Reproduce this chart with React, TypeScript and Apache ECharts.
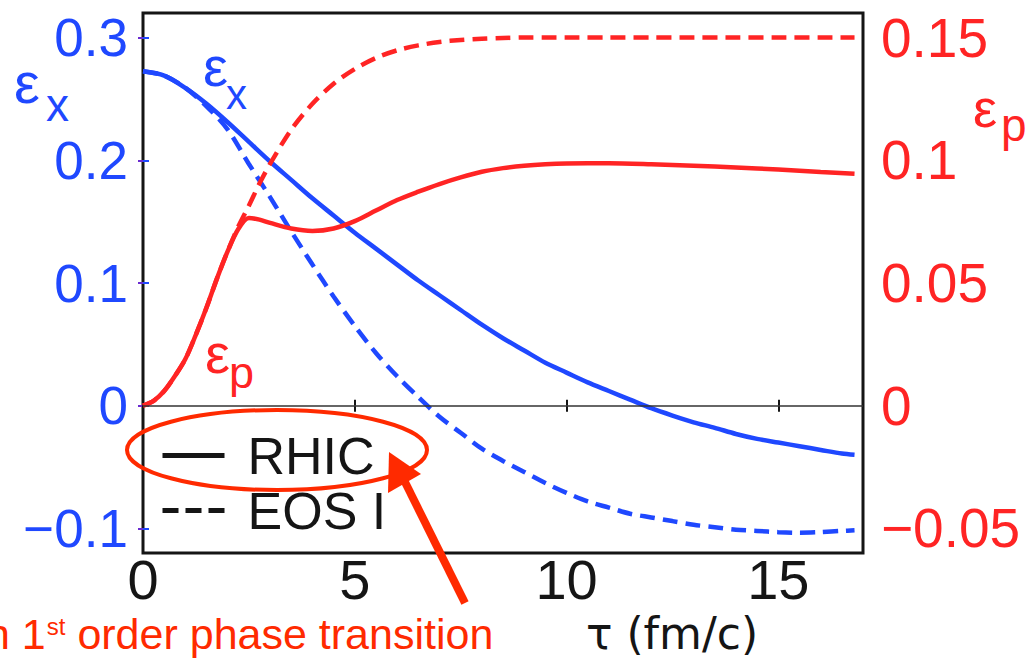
import React, { useEffect, useRef } from 'react';
import * as echarts from 'echarts';

// ---- data ----
const tauBlue = [0, 0.5, 1, 1.5, 2, 2.5, 3, 3.5, 4, 4.5, 5, 5.5, 6, 6.5, 7, 7.5, 8, 8.5, 9, 9.5, 10, 10.5, 11, 11.5, 12, 12.5, 13, 13.5, 14, 14.5, 15, 15.5, 16, 16.5, 16.8];
const epsXRhic = [0.2725, 0.269, 0.259, 0.246, 0.231, 0.215, 0.199, 0.184, 0.169, 0.155, 0.141, 0.128, 0.115, 0.102, 0.09, 0.078, 0.066, 0.055, 0.045, 0.035, 0.027, 0.019, 0.012, 0.005, -0.002, -0.008, -0.0135, -0.018, -0.023, -0.027, -0.03, -0.033, -0.036, -0.039, -0.04];
const epsXEos = [0.2725, 0.269, 0.259, 0.244, 0.225, 0.197, 0.17, 0.142, 0.115, 0.089, 0.065, 0.043, 0.024, 0.007, -0.009, -0.022, -0.035, -0.045, -0.054, -0.063, -0.071, -0.078, -0.083, -0.088, -0.091, -0.094, -0.097, -0.099, -0.101, -0.102, -0.103, -0.1035, -0.103, -0.102, -0.1015];

const tauRed = [0, 0.25, 0.5, 0.75, 1, 1.25, 1.5, 1.75, 2, 2.25, 2.5, 2.75, 3, 3.5, 4, 4.5, 5, 5.5, 6, 6.5, 7, 7.5, 8, 8.5, 9, 9.5, 10, 11, 12, 13, 14, 15, 16, 16.8];
const epsPRhic = [0, 0.002, 0.006, 0.012, 0.019, 0.029, 0.04, 0.052, 0.063, 0.072, 0.0765, 0.0758, 0.0745, 0.0722, 0.0712, 0.0722, 0.0752, 0.0795, 0.0838, 0.0872, 0.0903, 0.093, 0.0953, 0.0968, 0.0978, 0.0984, 0.0987, 0.0988, 0.0984, 0.0978, 0.0971, 0.0962, 0.0952, 0.0945];
const epsPEos = [0, 0.002, 0.006, 0.012, 0.019, 0.029, 0.04, 0.052, 0.063, 0.073, 0.0815, 0.0905, 0.0985, 0.1125, 0.123, 0.1312, 0.1372, 0.1417, 0.1448, 0.1468, 0.1482, 0.149, 0.1495, 0.1498, 0.15, 0.15, 0.15, 0.15, 0.15, 0.15, 0.15, 0.15, 0.15, 0.15];

const xTicks = [0, 5, 10, 15];
const leftTicks = [-0.1, 0, 0.1, 0.2, 0.3];
const rightTicks = [-0.05, 0, 0.05, 0.1, 0.15];
const legendNames = ['RHIC', 'EOS I'];
const xAxisTitle = 'τ (fm/c)';
const notePre = 'n 1';
const noteSup = 'st';
const noteText = ' order phase transition';

const BLUE = '#1f48ff';
const RED = '#ff2424';
const ANNO = '#ff2a00';
const INK = '#151515';
const FONT = '"Liberation Sans", Arial, Helvetica, sans-serif';

const pairs = (xs: number[], ys: number[]) => xs.map((x, i) => [x, ys[i]]);
const fmt = (v: number) => String(Number(v.toFixed(2))).replace('-', '\u2212');

export default function App() {
  const ref = useRef<HTMLDivElement>(null);
  useEffect(() => {
    if (!ref.current) return;
    const chart = echarts.init(ref.current, null, { renderer: 'svg' });
    const txt = (text: string, x: number, y: number, size: number, color: string) => ({
      type: 'text',
      x,
      y,
      z: 100,
      style: { text, fill: color, fontSize: size, fontFamily: FONT, align: 'left', verticalAlign: 'middle' },
    });
    const lineBase = { type: 'line', showSymbol: false, symbol: 'none', smooth: 0.3 };
    chart.setOption({
      animation: false,
      backgroundColor: '#ffffff',
      grid: {
        left: 143, right: 165, top: 13, bottom: 105, containLabel: false, outerBoundsMode: 'none',
        show: true, borderColor: INK, borderWidth: 3, backgroundColor: 'transparent',
      },
      legend: {
        data: legendNames,
        orient: 'vertical',
        left: 160,
        top: 428,
        padding: 0,
        itemGap: 0,
        itemWidth: 62,
        itemHeight: 2,
        selectedMode: false,
        itemStyle: { opacity: 0 },
        lineStyle: { width: 5 },
        textStyle: { fontSize: 52, color: INK, lineHeight: 55, fontFamily: FONT, padding: [0, 0, 0, 18] },
      },
      xAxis: [
        {
          type: 'value', min: 0, max: 17, interval: 5, position: 'bottom',
          axisLine: { show: false },
          axisTick: { inside: true, length: 6, customValues: xTicks, lineStyle: { color: INK, width: 2 } },
          axisLabel: { customValues: xTicks, fontSize: 56, color: INK, margin: -2, fontFamily: FONT },
          splitLine: { show: false },
          name: xAxisTitle, nameLocation: 'middle', nameGap: 47,
          nameTextStyle: { fontSize: 44, color: INK, fontFamily: '"DejaVu Sans", sans-serif', padding: [0, 0, 0, 338], verticalAlign: 'top' },
        },
        {
          type: 'value', min: 0, max: 17, interval: 5, position: 'top',
          axisLine: { show: false },
          axisTick: { inside: true, length: 6, customValues: xTicks, lineStyle: { color: INK, width: 2 } },
          axisLabel: { show: false },
          splitLine: { show: false },
        },
      ],
      yAxis: [
        {
          type: 'value', min: -0.12, max: 0.32, position: 'left',
          axisLine: { show: false },
          axisTick: { inside: true, length: 6, customValues: leftTicks, lineStyle: { color: BLUE, width: 2 } },
          axisLabel: { customValues: leftTicks, formatter: fmt, fontSize: 53, color: BLUE, margin: 15, fontFamily: FONT },
          splitLine: { show: false },
        },
        {
          type: 'value', min: -0.06, max: 0.16, position: 'right',
          axisLine: { show: false },
          axisTick: { inside: true, length: 5, customValues: rightTicks, lineStyle: { color: '#6a2bd0', width: 2 } },
          axisLabel: { customValues: rightTicks, formatter: fmt, fontSize: 55, color: RED, margin: 18, fontFamily: FONT },
          splitLine: { show: false },
        },
      ],
      series: [
        {
          ...lineBase, name: 'εx RHIC', xAxisIndex: 0, yAxisIndex: 0, data: pairs(tauBlue, epsXRhic),
          lineStyle: { color: BLUE, width: 4.5 }, itemStyle: { color: BLUE }, z: 3,
          markLine: { silent: true, symbol: 'none', label: { show: false }, lineStyle: { color: '#333', width: 1.5, type: 'solid' }, data: [{ yAxis: 0 }] },
        },
        {
          ...lineBase, name: 'εx EOS I', xAxisIndex: 0, yAxisIndex: 0, data: pairs(tauBlue, epsXEos),
          lineStyle: { color: BLUE, width: 4.5, type: [15, 8] }, itemStyle: { color: BLUE }, z: 3,
        },
        {
          ...lineBase, name: 'εp RHIC', xAxisIndex: 0, yAxisIndex: 1, data: pairs(tauRed, epsPRhic),
          lineStyle: { color: RED, width: 4.5 }, itemStyle: { color: RED }, z: 4,
        },
        {
          ...lineBase, name: 'εp EOS I', xAxisIndex: 0, yAxisIndex: 1, data: pairs(tauRed, epsPEos),
          lineStyle: { color: RED, width: 4.5, type: [15, 8] }, itemStyle: { color: RED }, z: 4,
        },
        {
          ...lineBase, name: legendNames[0], data: [], lineStyle: { color: INK, width: 5 }, itemStyle: { color: INK },
        },
        {
          ...lineBase, name: legendNames[1], data: [], lineStyle: { color: INK, width: 5, type: [16, 7] }, itemStyle: { color: INK },
        },
      ],
      graphic: [
        // axis names
        txt('ε', 14, 82, 58, BLUE),
        txt('x', 46, 105, 46, BLUE),
        txt('ε', 973, 108, 54, RED),
        txt('p', 1001, 125, 46, RED),
        // in-plot labels
        txt('ε', 203, 66, 56, BLUE),
        txt('x', 226, 94, 42, BLUE),
        txt('ε', 205, 353, 56, RED),
        txt('p', 229, 372, 45, RED),
        // annotation
        { type: 'ellipse', shape: { cx: 277, cy: 450, rx: 150, ry: 40 }, style: { fill: 'none', stroke: ANNO, lineWidth: 4 }, z: 100 },
        { type: 'line', shape: { x1: 465, y1: 603, x2: 404, y2: 480 }, style: { stroke: ANNO, lineWidth: 8 }, z: 100 },
        { type: 'polygon', shape: { points: [[389, 452], [388, 493], [421, 474]] }, style: { fill: ANNO }, z: 100 },
        {
          type: 'text', x: -14, y: 634, z: 100,
          style: {
            text: `{a|${notePre}}{s|${noteSup}}{a|${noteText}}`,
            fill: ANNO, fontFamily: FONT, align: 'left', verticalAlign: 'middle',
            rich: {
              a: { fontSize: 43, lineHeight: 43, fill: ANNO, fontFamily: FONT, verticalAlign: 'bottom' },
              s: { fontSize: 24, lineHeight: 24, fill: ANNO, fontFamily: FONT, verticalAlign: 'top', padding: [2, 0, 0, 1] },
            },
          },
        },
      ],
    });
    return () => chart.dispose();
  }, []);
  return <div ref={ref} style={{ position: 'fixed', left: 0, top: 0, width: 1028, height: 658, background: '#fff' }} />;
}
